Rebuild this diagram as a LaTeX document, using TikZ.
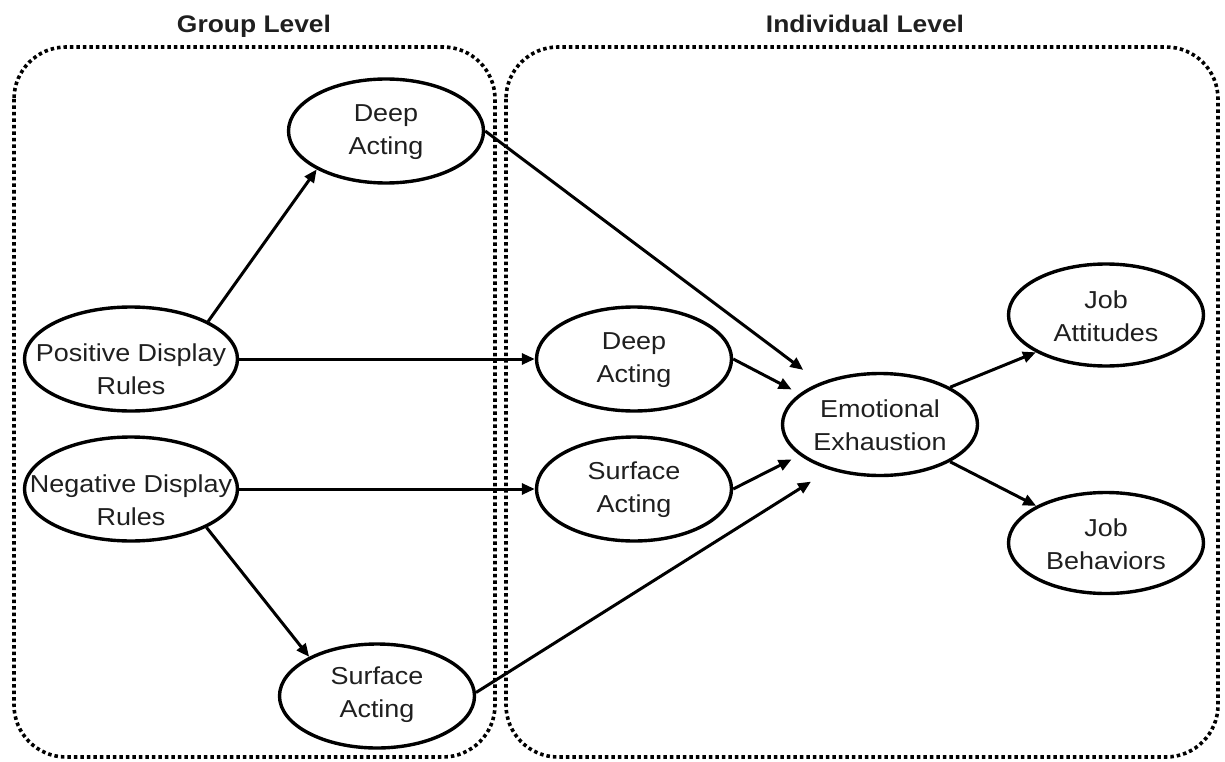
\documentclass[tikz,border=0pt]{standalone}
\usepackage{fontspec}
\setmainfont{Liberation Sans}[FakeStretch=1.1]
\usetikzlibrary{shapes.geometric,arrows.meta}
\begin{document}
\begin{tikzpicture}[x=1pt,y=-1pt,
  ell/.style={draw, ellipse, line width=3.4pt, inner sep=0pt,
    minimum width=#1, minimum height=104pt},
  ell/.default=195pt,
  txt/.style={align=center, inner sep=0pt, text=black!88,
    font=\fontsize{24.5}{33}\selectfont},
  ttl/.style={anchor=base, inner sep=0pt, text=black!88,
    font=\bfseries\fontsize{24}{29}\selectfont},
  dotbox/.style={line width=3.6pt, dash pattern=on 3.5pt off 3pt,
    rounded corners=52pt},
  conn/.style={line width=3pt, -{Triangle[length=13pt,width=11pt]}}]
\useasboundingbox (0,0) rectangle (1225,762);

% level boxes
\draw[dotbox] (14,47) rectangle (495,757);
\draw[dotbox] (506,47) rectangle (1218,757);
\node[ttl] (tg) at (254,33) {Group Level};
\node[ttl] (ti) at (865,33) {Individual Level};

% ellipses
\node[ell] (gDeep) at (386,131) {};
\node[ell=213pt] (pos) at (131,359) {};
\node[ell=213pt] (neg) at (131,489) {};
\node[ell] (gSurf) at (377,696) {};
\node[ell] (iDeep) at (634,359) {};
\node[ell] (iSurf) at (634,489) {};
\node[ell, minimum height=102pt] (EE) at (880,424.5) {};
\node[ell, minimum height=102pt] (JA) at (1106,315) {};
\node[ell, minimum height=101pt] (JB) at (1106,543) {};

% texts
\node[txt] (tgDeep) at ([yshift=-1pt]gDeep.center) {Deep\\Acting};
\node[txt] (tpos) at ([yshift=-10pt]pos.center) {Positive Display\\Rules};
\node[txt] (tneg) at ([yshift=-11pt]neg.center) {Negative Display\\Rules};
\node[txt] (tgSurf) at ([yshift=1pt]gSurf.center) {Surface\\Acting};
\node[txt] (tiDeep) at ([yshift=-1pt]iDeep.center) {Deep\\Acting};
\node[txt] (tiSurf) at ([yshift=-1pt]iSurf.center) {Surface\\Acting};
\node[txt] (tEE) at ([yshift=-1pt]EE.center) {Emotional\\Exhaustion};
\node[txt] (tJA) at ([yshift=-1pt]JA.center) {Job\\Attitudes};
\node[txt] (tJB) at ([yshift=-1pt]JB.center) {Job\\Behaviors};

% connectors
\draw[conn] (pos.26.6) -- (gDeep.209.8);
\draw[conn] (pos.east) -- (iDeep.west);
\draw[conn] (neg.east) -- (iSurf.west);
\draw[conn] (neg.333) -- (gSurf.150.9);
\draw[conn, shorten >=21pt] (gDeep.east) -- (EE.145.5);
\draw[conn, shorten >=9pt] (iDeep.east) -- (EE.159);
\draw[conn, shorten >=9pt] (iSurf.east) -- (EE.201.5);
\draw[conn, shorten >=22pt] (gSurf.2) -- (EE.222.8);
\draw[conn] (EE.28.7) -- (JA.208);
\draw[conn] (EE.332) -- (JB.152.4);
\end{tikzpicture}
\end{document}
